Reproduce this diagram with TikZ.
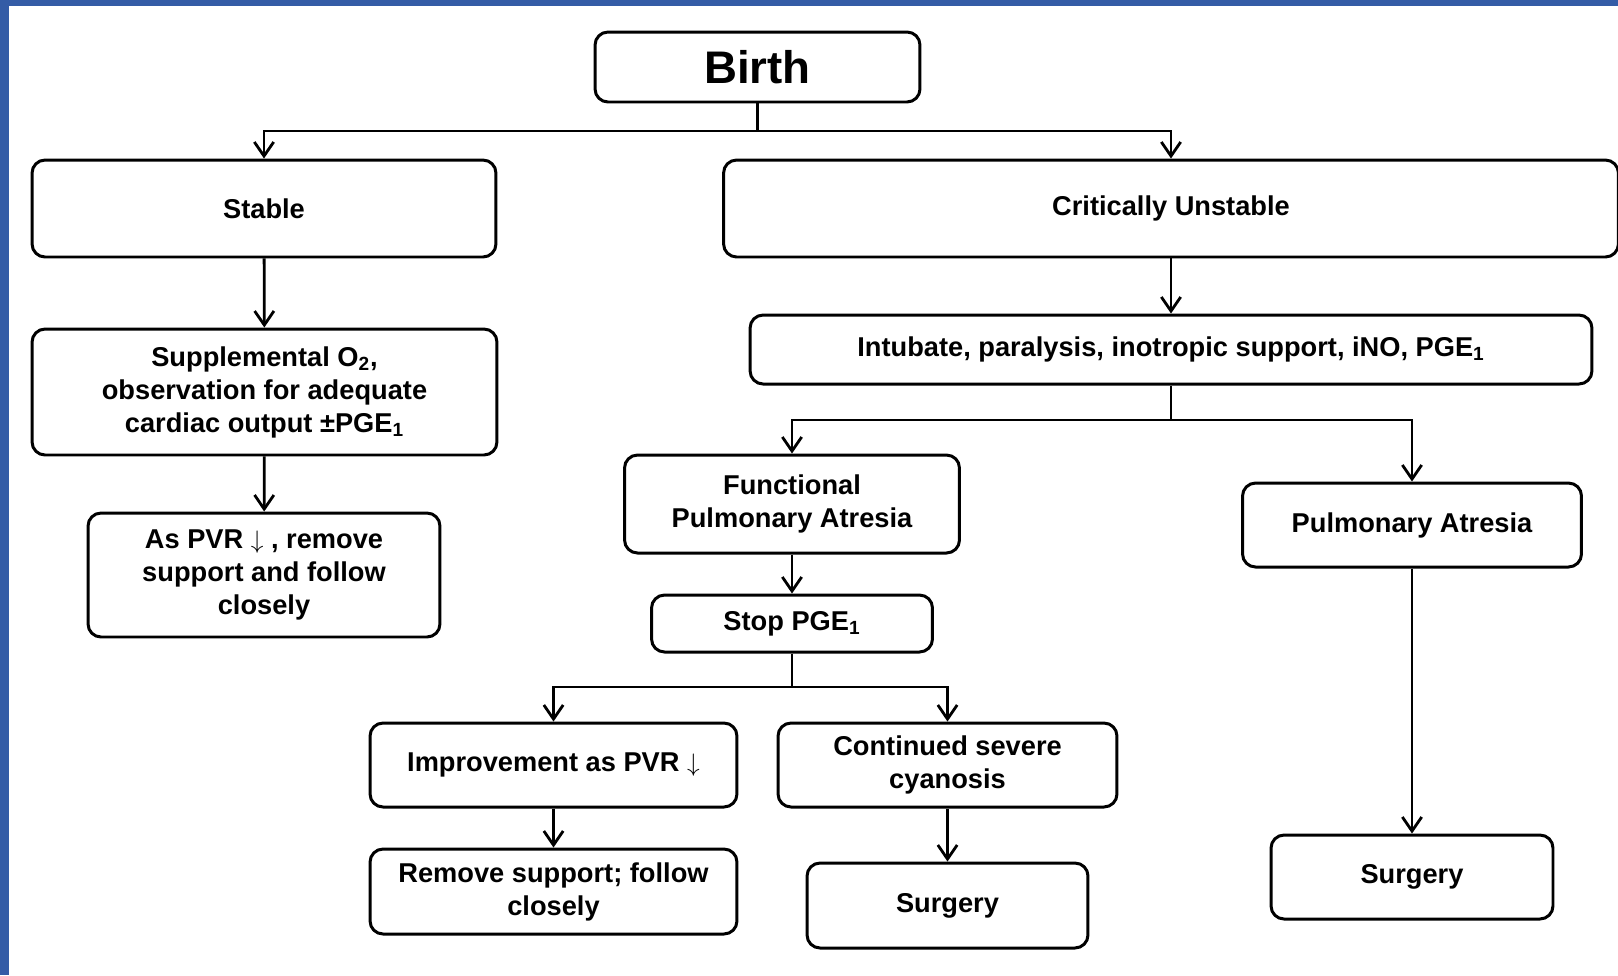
\documentclass[tikz,border=0pt]{standalone}
\usepackage{fontspec}
\setmainfont{Liberation Sans}
\usetikzlibrary{arrows.meta}
\definecolor{frameblue}{RGB}{52,92,166}
\tikzset{
  box/.style={draw, line width=1.7pt, rounded corners=0.26cm, align=center, inner sep=0pt,
    font=\bfseries\fontsize{15.5}{18.8}\selectfont},
  arr/.style={line width=1.6pt, -{Straight Barb[length=8pt,width=11pt]}},
  link/.style={line width=1.6pt}
}

\begin{document}
\begin{tikzpicture}[x=0.02cm,y=-0.02cm]
\useasboundingbox (0,0) rectangle (1618,975);
% frame
\fill[frameblue] (0,0) rectangle (1618,6);
\fill[frameblue] (0,0) rectangle (9,975);

% boxes
\node[box, minimum width=6.5cm, minimum height=1.4cm, font=\bfseries\fontsize{26}{30}\selectfont] (birth) at (757.5,67) {Birth};
\node[box, minimum width=9.28cm, minimum height=1.94cm] (stable) at (264,208.5) {Stable};
\node[box, minimum width=17.9cm, minimum height=1.94cm] (crit) at (1171,208.5) {Critically Unstable};
\node[box, minimum width=9.3cm, minimum height=2.52cm] (supp) at (264.5,392) {Supplemental O\textsubscript{2},\\observation for adequate\\cardiac output ±PGE\textsubscript{1}};
\node[box, minimum width=7.04cm, minimum height=2.48cm] (aspvr) at (264,575) {As PVR $\downarrow$ , remove\\support and follow\\closely};
\node[box, minimum width=16.84cm, minimum height=1.38cm] (intub) at (1171,349.5) {Intubate, paralysis, inotropic support, iNO, PGE\textsubscript{1}};
\node[box, minimum width=6.7cm, minimum height=1.96cm] (fpa) at (792,504) {Functional\\Pulmonary Atresia};
\node[box, minimum width=6.78cm, minimum height=1.68cm] (pa) at (1412,525) {Pulmonary Atresia};
\node[box, minimum width=5.62cm, minimum height=1.14cm] (stop) at (792,623.5) {Stop PGE\textsubscript{1}};
\node[box, minimum width=7.34cm, minimum height=1.68cm] (impr) at (553.5,765) {Improvement as PVR $\downarrow$};
\node[box, minimum width=6.78cm, minimum height=1.68cm] (cont) at (947.5,765) {Continued severe\\cyanosis};
\node[box, minimum width=7.34cm, minimum height=1.7cm] (remove) at (553.5,891.5) {Remove support; follow\\closely};
\node[box, minimum width=5.62cm, minimum height=1.7cm] (surg1) at (947.5,905.5) {Surgery};
\node[box, minimum width=5.64cm, minimum height=1.68cm] (surg2) at (1412,877) {Surgery};

% junctions
\coordinate (j1) at (757.5,131);
\coordinate (j2) at (1171,420);
\coordinate (j3) at (792,687);

% connectors
\draw[link] (birth.south) -- (j1);
\draw[arr] (j1) -| (stable.north);
\draw[arr] (j1) -| (crit.north);
\draw[arr] (stable) -- (supp);
\draw[arr] (supp) -- (aspvr);
\draw[arr] (crit.south) -- (intub.north);
\draw[link] (intub.south) -- (j2);
\draw[arr] (j2) -| (fpa.north);
\draw[arr] (j2) -| (pa.north);
\draw[arr] (fpa) -- (stop);
\draw[link] (stop.south) -- (j3);
\draw[arr] (j3) -| (impr.north);
\draw[arr] (j3) -| (cont.north);
\draw[arr] (impr) -- (remove);
\draw[arr] (cont) -- (surg1);
\draw[arr] (pa) -- (surg2);
\end{tikzpicture}
\end{document}
